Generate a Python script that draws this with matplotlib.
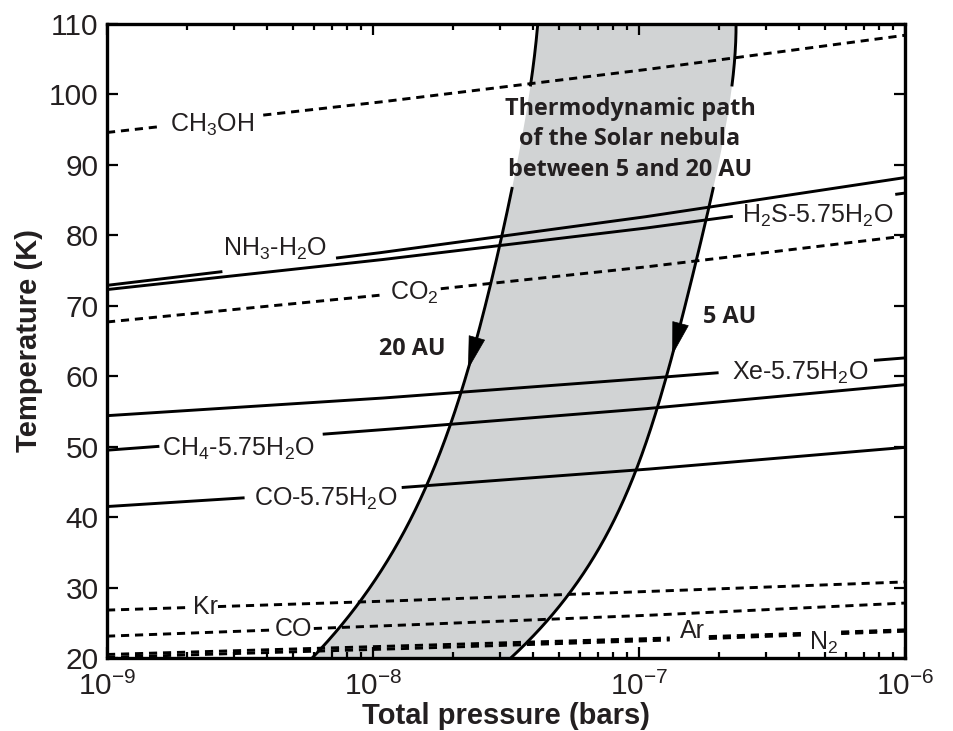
import numpy as np
import matplotlib
matplotlib.use('Agg')
import matplotlib.pyplot as plt
from matplotlib.ticker import FixedLocator, NullFormatter, FuncFormatter

plt.rcParams.update({
    'font.family': 'Liberation Sans',
    'mathtext.fontset': 'custom',
    'mathtext.rm': 'Liberation Sans',
    'mathtext.it': 'Liberation Sans:italic',
    'mathtext.bf': 'Liberation Sans:bold',
})
INK = '#231f20'

# ── Condensation / clathration curves: T (K) at P = 1e-9, 1e-8, 1e-7, 1e-6 bar ──
P_DECADES = [1e-9, 1e-8, 1e-7, 1e-6]
T_CH3OH = [94.6, 98.8, 103.4, 108.4]
T_NH3_H2O = [72.9, 77.4, 82.5, 88.2]
T_H2S_HYD = [72.3, 76.4, 80.9, 86.0]
T_CO2 = [67.7, 71.4, 75.4, 79.9]
T_XE_HYD = [54.4, 56.8, 59.6, 62.6]
T_CH4_HYD = [49.5, 52.3, 55.3, 58.8]
T_CO_HYD = [41.5, 43.9, 46.7, 49.9]
T_KR = [26.8, 28.0, 29.4, 30.8]
T_CO = [23.1, 24.5, 26.0, 27.8]
T_AR = [20.5, 21.6, 22.7, 24.0]
T_N2 = [20.1, 21.2, 22.4, 23.8]

# ── Thermodynamic path of the nebula at 20 AU and 5 AU ──
P_20AU = [5.79e-9, 6.31e-9, 7.62e-9, 9.14e-9, 1.21e-8, 1.57e-8, 1.93e-8, 2.14e-8,
          2.35e-8, 2.52e-8, 2.77e-8, 3.00e-8, 3.37e-8, 3.89e-8, 4.18e-8]
T_20AU = [20.0, 21.2, 24.3, 28.0, 36.0, 44.5, 53.1, 57.7,
          62.1, 66.3, 73.1, 78.8, 87.7, 101.5, 110.0]
P_5AU = [3.27e-8, 3.72e-8, 4.56e-8, 5.58e-8, 7.67e-8, 9.53e-8, 1.164e-7, 1.259e-7,
         1.365e-7, 1.671e-7, 1.807e-7, 2.061e-7, 2.265e-7, 2.344e-7]
T_5AU = [20.0, 22.0, 25.5, 29.0, 37.8, 46.7, 55.5, 59.8,
         64.3, 76.4, 82.2, 94.5, 105.1, 110.0]

# (values, dashed?, label, label P, label T baseline, gaps in P where the label sits)
CURVES = [
    (T_CH3OH, True, r'CH$_3$OH', 2.48e-9, 94.7, [(1.61e-9, 3.86e-9)]),
    (T_NH3_H2O, False, r'NH$_3$-H$_2$O', 4.28e-9, 77.1, [(2.72e-9, 7.24e-9)]),
    (T_H2S_HYD, False, r'H$_2$S-5.75H$_2$O', 4.69e-7, 81.8, [(2.26e-7, 9.17e-7)]),
    (T_CO2, True, r'CO$_2$', 1.43e-8, 70.8, [(1.06e-8, 1.79e-8)]),
    (T_XE_HYD, False, r'Xe-5.75H$_2$O', 4.03e-7, 59.5, [(2.0e-7, 7.6e-7)]),
    (T_CH4_HYD, False, r'CH$_4$-5.75H$_2$O', 3.11e-9, 48.7, [(1.58e-9, 6.43e-9)]),
    (T_CO_HYD, False, r'CO-5.75H$_2$O', 6.63e-9, 41.6, [(3.30e-9, 1.28e-8)]),
    (T_KR, True, 'Kr', 2.34e-9, 26.3, [(1.99e-9, 2.61e-9)]),
    (T_CO, True, 'CO', 5.02e-9, 23.1, [(4.10e-9, 5.95e-9)]),
    (T_AR, True, 'Ar', 1.59e-7, 22.8, [(1.31e-7, 1.82e-7), (4.27e-7, 5.75e-7)]),
    (T_N2, True, r'N$_2$', 4.96e-7, 21.1, [(1.31e-7, 1.82e-7), (4.27e-7, 5.75e-7)]),
]
LW = 2.1

fig = plt.figure(figsize=(9.54, 7.31), dpi=100)
ax = fig.add_axes([107 / 954, 1 - 658 / 731, 798 / 954, 634 / 731])
ax.set_xscale('log')
ax.set_xlim(1e-9, 1e-6)
ax.set_ylim(20, 110)

# smooth log P(T) through the read points of each path
tg = np.linspace(20, 110, 600)
paths = []
for P, T in [(P_20AU, T_20AU), (P_5AU, T_5AU)]:
    coef = np.polyfit(T, np.log10(P), 4)
    paths.append(np.polyval(coef, tg))

# grey band between the two paths
ax.fill(10 ** np.concatenate([paths[0], paths[1][::-1]]), np.concatenate([tg, tg[::-1]]),
        color='#d1d3d4', lw=0, zorder=1)

# path boundaries, broken where the band title sits
for lp in paths:
    lp = lp.copy()
    lp[(tg > 87.0) & (tg < 101.0)] = np.nan
    ax.plot(10 ** lp, tg, color='k', lw=LW, zorder=3, solid_capstyle='butt')

# direction arrows on each path
for lp, t_tip in [(paths[0], 61.0), (paths[1], 63.0)]:
    p_tip = 10 ** np.interp(t_tip, tg, lp)
    p_base = 10 ** np.interp(t_tip + 4.5, tg, lp)
    ax.annotate('', xy=(p_tip, t_tip), xytext=(p_base, t_tip + 4.5),
                arrowprops=dict(arrowstyle='-|>,head_length=1.4,head_width=0.36',
                                mutation_scale=16, color='k', lw=0.5,
                                shrinkA=0, shrinkB=0), zorder=4)

# equilibrium curves with their labels
lp_grid = np.linspace(-9, -6, 900)
for vals, dashed, label, lx, ly, gaps in CURVES:
    T = np.interp(lp_grid, np.log10(P_DECADES), vals)
    for lo, hi in gaps:
        T[(lp_grid > np.log10(lo)) & (lp_grid < np.log10(hi))] = np.nan
    kw = dict(color='k', lw=LW, zorder=2, clip_on=True)
    if dashed:
        ax.plot(10 ** lp_grid, T, dashes=(2.8, 2.0), **kw)
    else:
        ax.plot(10 ** lp_grid, T, solid_capstyle='butt', **kw)
    ax.text(lx, ly, label, fontsize=18, ha='center', va='baseline', color=INK, zorder=5)

bold = dict(family='Open Sans', weight='bold', color=INK, zorder=5)
ax.text(9.25e-8, 99.7, 'Thermodynamic path\nof the Solar nebula\nbetween 5 and 20 AU',
        ha='center', va='top', multialignment='center', fontsize=16.8,
        linespacing=1.36, **bold)
ax.text(1.41e-8, 63.0, '20 AU', ha='center', va='baseline', fontsize=16.8, **bold)
ax.text(2.20e-7, 67.5, '5 AU', ha='center', va='baseline', fontsize=16.8, **bold)

# axes styling
for s in ax.spines.values():
    s.set_linewidth(2.4)
ax.yaxis.set_major_locator(FixedLocator(np.arange(20, 111, 10)))
ax.xaxis.set_major_locator(FixedLocator(P_DECADES))
minor = [m * d for d in P_DECADES[:-1] for m in range(2, 10)]
ax.xaxis.set_minor_locator(FixedLocator(minor))
ax.xaxis.set_minor_formatter(NullFormatter())
ax.xaxis.set_major_formatter(FuncFormatter(lambda v, _: r'10$^{%d}$' % round(np.log10(v))))
ax.tick_params(which='both', direction='in', top=True, right=True, width=1.6, colors='k')
ax.tick_params(which='major', length=8, labelsize=21.5, pad=6, labelcolor=INK)
ax.tick_params(axis='x', which='major', pad=10)
ax.tick_params(which='minor', length=4)
ax.set_xlabel('Total pressure (bars)', fontsize=21, fontweight='bold', color=INK, labelpad=1)
ax.set_ylabel('Temperature (K)', fontsize=21, fontweight='bold', color=INK, labelpad=4)

fig.savefig('out.png', dpi=100)
